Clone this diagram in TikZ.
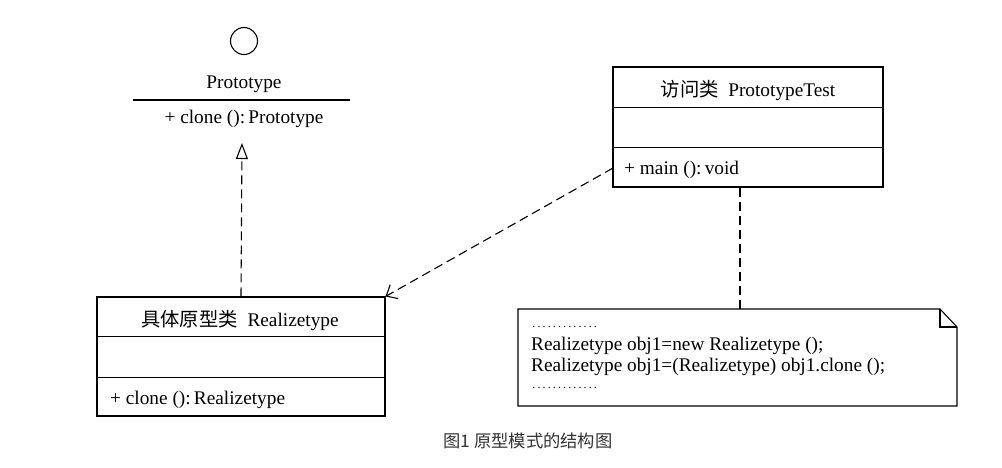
\documentclass[tikz,border=0pt]{standalone}
\usepackage{fontspec}
\setmainfont{Liberation Serif}
\newfontfamily\cjk{Noto Sans CJK SC}
\usetikzlibrary{arrows.meta}
\tikzset{
  x=1pt,y=-1pt,
  umlbox/.style={draw, line width=1.1pt, minimum width=#1, inner sep=0pt, rectangle},
  lbl/.style={inner sep=0pt, font=\fontsize{19.3}{23}\selectfont},
  divider/.style={line width=1.1pt},
  dep/.style={line width=1.1pt, dash pattern=on 9pt off 5pt},
  caption/.style={inner sep=0pt, font=\cjk\fontsize{17.3}{20}\selectfont, text=black!80}
}
\newcommand{\dotrow}{\hbox to 67pt{\fontsize{12}{12}\selectfont\xleaders\hbox to 4.8pt{\hss.\hss}\hfill}}
\begin{document}
\begin{tikzpicture}
\useasboundingbox[fill=white] (0,0) rectangle (1002,467);
% Interface Prototype
\node[draw, circle, line width=1.1pt, minimum size=27pt, inner sep=0pt] (iface) at (244,41) {};
\node[lbl] (pname) at (244,84) {Prototype};
\coordinate (pl) at (133,100);
\coordinate (pr) at (350,100);
\draw[divider] (pl) -- (pr);
\node[lbl] (pm) at (244,119) {+ clone ():\,Prototype};
\coordinate (ptip) at (242,143);
% Realizetype class
\node[umlbox=288pt, minimum height=119pt] (rz) at (241,356.5) {};
\draw[divider] ([yshift=-40pt]rz.north west) -- ([yshift=-40pt]rz.north east);
\draw[divider] ([yshift=-81pt]rz.north west) -- ([yshift=-81pt]rz.north east);
\node[lbl] (rzname) at (240,320) {{\cjk 具体原型类}\ \ Realizetype};
\node[lbl, anchor=west] (rzm) at (110,400) {+ clone ():\,Realizetype};
% PrototypeTest class
\node[umlbox=270pt, minimum height=120pt] (pt) at (748,127) {};
\draw[divider] ([yshift=-41pt]pt.north west) -- ([yshift=-41pt]pt.north east);
\draw[divider] ([yshift=-81pt]pt.north west) -- ([yshift=-81pt]pt.north east);
\node[lbl] (ptname) at (748,90) {{\cjk 访问类}\ \ PrototypeTest};
\node[lbl, anchor=west] (ptm) at (624,170) {+ main ():\,void};
\coordinate (ptw) at (613,168);
% Note
\coordinate (nA) at (518,309);
\coordinate (nB) at (940,309);
\coordinate (nC) at (957,327);
\coordinate (nD) at (957,406);
\coordinate (nE) at (518,406);
\draw[line width=1.1pt] (nA) -- (nB) -- (nC) -- (nD) -- (nE) -- cycle;
\draw[line width=1.1pt] (nB) -- (940,327) -- (nC);
\coordinate (ntop) at (740,309);
\node[lbl, anchor=west, align=left, font=\fontsize{19.3}{21}\selectfont] (notetext) at (531,357)
{\dotrow\\[2pt]
Realizetype obj1=new Realizetype ();\\
Realizetype obj1=(Realizetype) obj1.clone ();\\[-4pt]
\dotrow};
% Connectors
\draw[dep, -{Triangle[open, length=16pt, width=12pt, line width=1.1pt]}] (rz.north) -- (ptip);
\draw[dep, -{Straight Barb[length=9pt, width=16pt, line width=1.1pt]}] (ptw) -- (rz.north east);
\draw[dep] (pt.south) ++(-8,0) coordinate (pts) -- (pts |- ntop);
% Caption
\node[caption] (cap) at (528,441) {图1 原型模式的结构图};
\end{tikzpicture}
\end{document}
